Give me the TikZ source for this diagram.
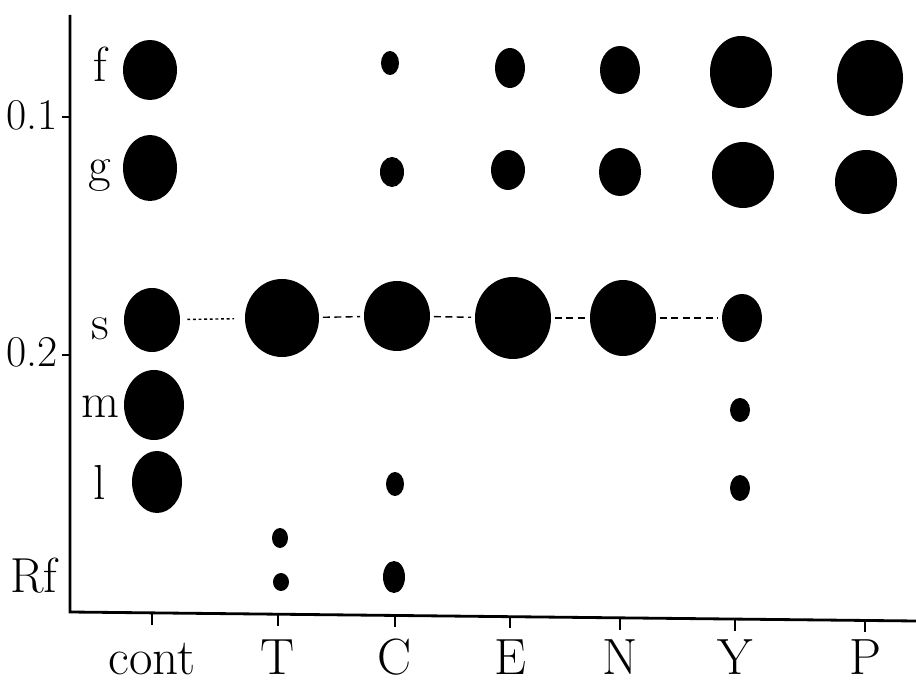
\documentclass[tikz,border=0pt]{standalone}
\usetikzlibrary{shapes.geometric}
\begin{document}
\begin{tikzpicture}[x=0.02cm,y=-0.02cm,
  spot/.style 2 args={ellipse,fill=black,inner sep=0pt,minimum width=#1*0.02cm,minimum height=#2*0.02cm},
  lab/.style={font=\fontsize{28}{30}\selectfont,anchor=base,inner sep=0pt},
  axlab/.style={font=\fontsize{25}{27}\selectfont,anchor=base,inner sep=0pt},
  col/.style={font=\fontsize{29}{31}\selectfont,anchor=base,inner sep=0pt},
  axis/.style={line width=1.6pt},
  tick/.style={line width=1.2pt},
  link/.style={line width=0.8pt,dash pattern=on 4pt off 2.5pt,shorten <=2pt,shorten >=2pt},
  linkdot/.style={line width=0.8pt,dash pattern=on 1.6pt off 1.6pt,shorten <=4pt,shorten >=6pt}]
\useasboundingbox (0,0) rectangle (916,685);
% axes
\coordinate (origin) at (70,612);
\coordinate (ytop) at (70,15);
\coordinate (xend) at (916,621);
\draw[axis] (ytop)--(origin)--(xend);
\draw[tick] (70,117)--(62,117);
\draw[tick] (70,355)--(62,355);
\node[axlab] (r1) at (32,130) {0.1};
\node[axlab] (r2) at (32,367) {0.2};
\node[axlab,font=\fontsize{28}{30}\selectfont] (rf) at (34,592) {Rf};
% columns
\foreach \x/\n/\t in {152/cont/cont,278/T/T,395/C/C,510/E/E,620/N/N,735/Y/Y,865/P/P}{
  \draw[tick] (\x,{612+\x*0.0105})--++(0,11);
  \node[col] (lab-\n) at (\x,674) {\t};
}
% rows
\node[lab] (lf) at (100,82) {f};
\node[lab] (lg) at (100,182) {g};
\node[lab] (ls) at (100,340) {s};
\node[lab] (lm) at (100,418) {m};
\node[lab] (ll) at (100,500) {l};
% spots
\node[spot={54}{60}] (cont-f) at (150,70) {};
\node[spot={54}{66}] (cont-g) at (150,168) {};
\node[spot={56}{64}] (cont-s) at (152,320) {};
\node[spot={60}{70}] (cont-m) at (154,405) {};
\node[spot={50}{62}] (cont-l) at (157,482) {};
\node[spot={74}{78}] (T-s) at (282,318) {};
\node[spot={16}{20}] (T-a) at (280,538) {};
\node[spot={16}{18}] (T-b) at (281,582) {};
\node[spot={18}{24}] (C-f) at (390,63) {};
\node[spot={24}{30}] (C-g) at (392,172) {};
\node[spot={66}{70}] (C-s) at (397,316) {};
\node[spot={18}{24}] (C-l) at (395,484) {};
\node[spot={22}{32}] (C-b) at (394,577) {};
\node[spot={30}{40}] (E-f) at (510,68) {};
\node[spot={34}{40}] (E-g) at (508,170) {};
\node[spot={76}{82}] (E-s) at (513,318) {};
\node[spot={40}{48}] (N-f) at (620,70) {};
\node[spot={42}{48}] (N-g) at (620,172) {};
\node[spot={66}{76}] (N-s) at (623,318) {};
\node[spot={62}{72}] (Y-f) at (741,72) {};
\node[spot={62}{66}] (Y-g) at (743,175) {};
\node[spot={40}{48}] (Y-s) at (742,318) {};
\node[spot={20}{24}] (Y-m) at (740,410) {};
\node[spot={20}{26}] (Y-l) at (740,488) {};
\node[spot={66}{76}] (P-f) at (870,78) {};
\node[spot={62}{64}] (P-g) at (866,182) {};
% s line
\draw[linkdot] (cont-s)--(T-s);
\draw[link] (T-s)--(C-s);
\draw[link] (C-s)--(E-s);
\draw[link] (E-s)--(N-s);
\draw[link] (N-s)--(Y-s);
\end{tikzpicture}
\end{document}
